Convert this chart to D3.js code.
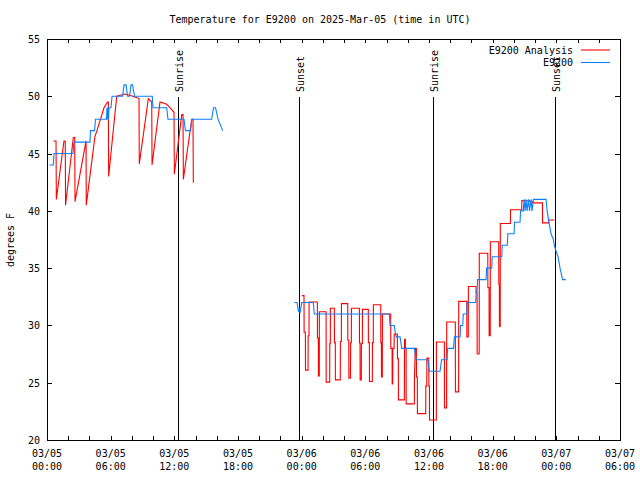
<!DOCTYPE html>
<html><head><meta charset="utf-8">
<script src="https://cdn.jsdelivr.net/npm/d3@7"></script>
<style>
html,body{margin:0;padding:0;background:#fff;}
text{font-family:"DejaVu Sans Mono","Liberation Mono",monospace;font-size:10px;fill:#000;}
</style></head>
<body>
<svg id="chart" width="640" height="480"></svg>
<script>
// ---- data (hours after 03/05 00:00 UTC, temperature in degrees F) ----
const titleText = "Temperature for E9200 on 2025-Mar-05 (time in UTC)";
const yLabelText = "degrees F";
const seriesNames = ["E9200 Analysis", "E9200"];

const obsHours1 = [0.22,0.59,0.66,2.45,2.54,4.05,4.10,4.48,4.57,5.61,5.65,5.70,5.75,5.80,5.84,6.03,6.13,7.13,7.26,7.45,7.59,7.78,7.92,8.06,8.25,9.92,9.99,11.28,11.40,12.91,13.05,13.54,13.64,15.52,15.69,15.88,16.12,16.56];
const obsTemps1 = [44,44,45,45,46,46,47,47,48,48,49,48,49,48,49,49,50,50,51,51,50,50,51,51,50,50,49,49,48,48,47,47,48,48,49,49,48,47];

const obsHours2 = [23.31,23.56,23.70,23.80,23.85,24.01,25.10,25.19,32.26,32.33,32.73,32.80,32.90,33.27,33.43,34.62,34.78,35.88,36.03,37.04,37.18,37.70,37.75,38.31,38.39,38.93,38.97,39.18,39.23,39.56,39.60,40.40,40.45,40.53,40.57,41.38,41.43,41.91,41.96,42.86,42.90,43.38,43.43,44.02,44.06,44.58,44.63,44.89,44.96,45.05,45.15,45.24,45.38,45.47,45.62,45.71,45.85,47.03,47.13,47.31,47.50,47.72,47.81,47.97,48.16,48.35,48.59,48.89];
const obsTemps2 = [32,32,31.2,31.5,31.1,32,32,31,31,30,30,29.5,29,29,28,28,27,27,26,26,27,27,28,28,29,29,30,30,31,31,32,32,33,33,34,34,35,35,36,36,37,37,38,38,39,39,40,40,41,40,41,40,41,40,41,40,41,41,40,39,38,37.5,37,36.5,36,35,34,34];

const anaHours1 = [0.59,0.85,0.88,1.60,1.72,1.75,2.48,2.61,2.64,3.68,3.70,4.52,4.71,5.37,5.70,5.78,5.81,6.57,7.35,8.10,8.67,8.70,9.55,9.87,9.90,10.65,11.28,11.59,11.97,12.00,12.70,12.82,12.85,13.64,13.76,13.79];
const anaTemps1 = [46.1,46.1,41.0,46.1,46.1,40.5,46.4,46.4,40.8,46.1,40.5,46.5,47,49,49.5,49.5,43.0,50.0,50.2,50,49.8,44.1,49.8,49.5,44.0,49.5,49.3,49,48.6,43.2,48.4,48.4,42.75,48.0,48.0,42.45];

const anaHours2 = [24.03,24.22,24.23,24.35,24.36,24.60,24.61,24.69,24.70,25.48,25.49,25.57,25.58,25.66,25.67,26.30,26.31,26.64,26.65,26.70,26.71,27.08,27.09,27.17,27.18,27.64,27.65,27.74,27.75,28.34,28.35,28.44,28.45,28.59,28.62,28.68,28.69,29.44,29.45,29.50,29.51,29.62,29.63,29.72,29.73,30.28,30.29,30.38,30.39,30.66,30.67,30.75,30.76,31.45,31.46,31.51,31.52,31.60,31.61,32.39,32.40,32.52,32.53,32.58,32.59,32.71,32.72,33.02,33.03,33.11,33.12,33.68,33.69,33.77,33.78,33.84,33.85,34.62,34.63,34.71,34.81,34.82,34.90,34.91,35.69,35.70,35.79,35.80,35.98,35.99,36.04,36.05,36.69,36.70,37.45,37.46,37.66,37.67,38.48,38.49,38.79,38.80,39.56,39.57,39.70,39.71,40.43,40.44,40.53,40.54,40.73,40.74,41.54,41.55,41.66,41.67,41.77,41.78,42.57,42.58,42.63,42.64,42.71,42.72,43.67,43.68,44.74,44.75,45.68,45.81,46.69,46.70,47.26,47.27,47.81];
const anaTemps2 = [32.6,32.6,29.4,29.4,26.1,26.1,29.1,29.1,32.05,32.05,28.9,28.9,25.6,25.6,31.2,31.2,25.05,25.05,28.4,28.4,31.5,31.5,28.5,28.5,25.25,25.25,28.6,28.6,31.9,31.9,28.7,28.7,25.4,25.4,28.5,28.5,31.5,31.5,28.5,28.5,25.25,25.25,28.4,28.4,31.4,31.4,28.5,28.5,25.1,25.1,28.5,28.5,31.8,31.8,28.5,28.5,25.5,25.5,31.0,31.0,28.0,28.0,24.9,24.9,28.0,28.0,29.25,29.25,27.1,27.1,23.5,23.5,28.8,28.8,28.0,28.0,23.15,23.15,25.5,28.0,28.0,25.5,25.5,22.3,22.3,24.7,24.7,27.15,27.15,24.7,24.7,21.75,21.75,28.55,28.55,22.8,22.8,30.3,30.3,24.2,24.2,32.1,32.1,29.0,29.0,33.4,33.4,32.9,32.9,27.5,27.5,36.3,36.3,33.3,33.3,29.1,29.1,37.3,37.3,33.6,33.6,29.9,29.9,38.9,38.9,40.1,40.1,40.9,40.85,40.7,40.7,38.95,38.95,39.2,39.2];

const sunHours = [12.35, 23.75, 36.38, 47.83];
const sunLabels = ["Sunrise", "Sunset", "Sunrise", "Sunset"];

const xMinorTicks = [0,2,4,6,8,10,12,14,16,18,20,22,24,26,28,30,32,34,36,38,40,42,44,46,48,50,52,54];
const xLabelHours = [0,6,12,18,24,30,36,42,48,54];
const xLabelDates = ["03/05","03/05","03/05","03/05","03/06","03/06","03/06","03/06","03/07","03/07"];
const xLabelTimes = ["00:00","06:00","12:00","18:00","00:00","06:00","12:00","18:00","00:00","06:00"];
const yTicks = [20,25,30,35,40,45,50,55];

// ---- layout ----
const L = 47, R = 620, T = 39, B = 440;
const colors = ["#ff0000", "#0a80ff"];
const svg = d3.select("#chart");
const x = d3.scaleLinear().domain([0, 54]).range([L, R]);
const y = d3.scaleLinear().domain([20, 55]).range([B, T]);

const zip = (hs, vs) => hs.map((h, i) => [h, vs[i]]);
const line = d3.line().x(d => x(d[0])).y(d => y(d[1]));

// title
svg.append("text").attr("x", 320).attr("y", 23).attr("text-anchor", "middle").text(titleText);
// y label
svg.append("text").attr("transform", "translate(14,240) rotate(-90)").attr("text-anchor", "middle").text(yLabelText);

// axes: bottom ticks (inward) and labels
const gB = svg.append("g").attr("transform", `translate(0,${B})`)
  .call(d3.axisBottom(x).tickValues(xMinorTicks).tickSize(-4).tickSizeOuter(0).tickFormat(""));
const gT = svg.append("g").attr("transform", `translate(0,${T})`)
  .call(d3.axisTop(x).tickValues(xMinorTicks).tickSize(-4).tickSizeOuter(0).tickFormat(""));
const gL = svg.append("g").attr("transform", `translate(${L},0)`)
  .call(d3.axisLeft(y).tickValues(yTicks).tickSize(-5).tickSizeOuter(0).tickPadding(7).tickFormat(d3.format("d")));
const gR = svg.append("g").attr("transform", `translate(${R},0)`)
  .call(d3.axisRight(y).tickValues(yTicks).tickSize(-5).tickSizeOuter(0).tickFormat(""));
[gB, gT, gL, gR].forEach(g => {
  g.select(".domain").remove();
  g.selectAll("line").attr("stroke", "#000").attr("shape-rendering", "crispEdges");
  g.selectAll("text").attr("font-family", null).attr("font-size", null).attr("fill", "#000");
});
gL.selectAll("text").attr("dy", "0.35em");

const xl = svg.append("g");
xLabelHours.forEach((h, i) => {
  const t = xl.append("text").attr("x", x(h)).attr("y", 457).attr("text-anchor", "middle");
  t.append("tspan").attr("x", x(h)).attr("y", 457).text(xLabelDates[i]);
  t.append("tspan").attr("x", x(h)).attr("y", 470).text(xLabelTimes[i]);
});

// frame
svg.append("rect").attr("x", L + 0.5).attr("y", T + 0.5).attr("width", R - L).attr("height", B - T)
  .attr("fill", "none").attr("stroke", "#000").attr("stroke-width", 1);

// sunrise / sunset markers
sunHours.forEach((h, i) => {
  const px = Math.round(x(h)) + 0.5;
  svg.append("line").attr("x1", px).attr("x2", px).attr("y1", 97).attr("y2", B)
    .attr("stroke", "#000").attr("stroke-width", 1);
  svg.append("text").attr("transform", `translate(${px + 4},92) rotate(-90)`).attr("text-anchor", "start").text(sunLabels[i]);
});

// series
const plot = svg.append("g");
[zip(anaHours1, anaTemps1), zip(anaHours2, anaTemps2)].forEach(seg =>
  plot.append("path").attr("d", line(seg)).attr("fill", "none").attr("stroke", colors[0]).attr("stroke-width", 1.1));
[zip(obsHours1, obsTemps1), zip(obsHours2, obsTemps2)].forEach(seg =>
  plot.append("path").attr("d", line(seg)).attr("fill", "none").attr("stroke", colors[1]).attr("stroke-width", 1.1));

// legend
seriesNames.forEach((name, i) => {
  const ly = 50 + i * 12.5;
  svg.append("text").attr("x", 573).attr("y", ly + 3.5).attr("text-anchor", "end").text(name);
  svg.append("line").attr("x1", 581).attr("x2", 610).attr("y1", ly).attr("y2", ly)
    .attr("stroke", colors[i]).attr("stroke-width", 1.1);
});
</script>
</body></html>
